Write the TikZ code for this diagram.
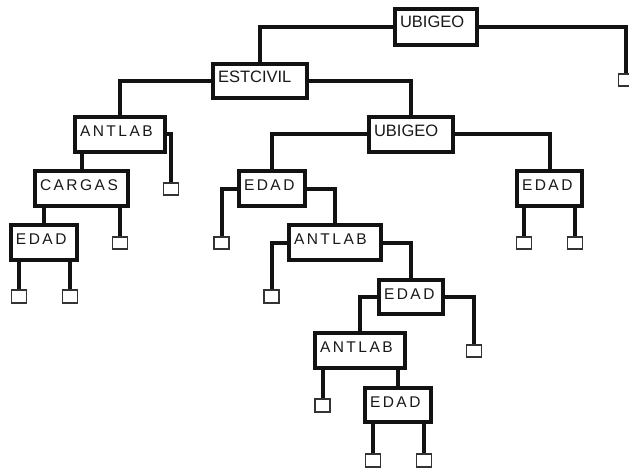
\documentclass[tikz,border=0pt]{standalone}
\usepackage{fontspec}
\setmainfont{Liberation Sans}
\newfontfamily\spacedfont[LetterSpace=16]{Liberation Sans}
\newcommand\txa[1]{\fontsize{16.5pt}{18pt}\selectfont #1}
\newcommand\txb[1]{\fontsize{15.5pt}{18pt}\spacedfont #1}
\begin{document}
\begin{tikzpicture}[x=1pt,y=-1pt,
  conn/.style={line width=4pt, draw=black!93},
  tb/.style={draw=black!93, line width=4pt, fill=white, inner sep=0pt, align=left, text height=19pt, text=black!90},
  leaf/.style={draw=black!80, line width=1.8pt, fill=white, inner sep=0pt, minimum width=15pt, minimum height=12.5pt}]
\useasboundingbox (0,0) rectangle (629,468);
\newcommand\tbox[6]{%
 \pgfmathsetmacro\bw{#4-#2-4}\pgfmathsetmacro\bh{#5-#3-4}\pgfmathsetmacro\bd{\bh-19}%
 \node[tb, text width=\bw pt, text depth=\bd pt] (#1) at ({(#2+#4)/2},{(#3+#5)/2}) {\hspace*{5pt}#6};}
\newcommand\lf[3]{\node[leaf] (#1) at (#2,#3) {};}
% boxes
\tbox{U1}{393}{7}{479}{47}{\txa{UBIGEO}}
\tbox{EC}{211}{62}{309}{100}{\txa{ESTCIVIL}}
\tbox{A1}{73}{115}{167}{154}{\txb{ANTLAB}}
\tbox{U2}{367}{115}{455}{154}{\txa{UBIGEO}}
\tbox{C}{33}{169}{130}{208}{\txb{CARGAS}}
\tbox{E1}{9}{223}{79}{262}{\txb{EDAD}}
\tbox{E2}{237}{169}{307}{208}{\txb{EDAD}}
\tbox{E3}{515}{169}{584}{208}{\txb{EDAD}}
\tbox{A2}{287}{223}{383}{262}{\txb{ANTLAB}}
\tbox{E4}{377}{278}{445}{316}{\txb{EDAD}}
\tbox{A3}{313}{331}{407}{370}{\txb{ANTLAB}}
\tbox{E5}{363}{386}{433}{424}{\txb{EDAD}}
% leaves
\lf{L0}{626}{80}
\lf{L1}{171}{189}
\lf{L2}{120}{243}
\lf{L3}{19}{296.5}
\lf{L4}{70}{296.5}
\lf{L5}{221.5}{243}
\lf{L6}{271.5}{296.5}
\lf{L7}{524}{243}
\lf{L8}{575}{243}
\lf{L9}{474}{351}
\lf{L10}{322.5}{405.5}
\lf{L11}{373}{460.5}
\lf{L12}{424}{460.5}
% connectors
\draw[conn] (U1.west) -| (EC.north);
\draw[conn] (U1.east) -| (L0.north);
\draw[conn] (EC.west) -| (A1.north);
\draw[conn] (EC.east) -| (U2.north);
\draw[conn] (A1.east) -| (L1.north);
\draw[conn] (C.north) -- (C.north |- A1.south);
\draw[conn] (E1.north) -- (E1.north |- C.south);
\draw[conn] (L2.north) -- (L2.north |- C.south);
\draw[conn] (L3.north) -- (L3.north |- E1.south);
\draw[conn] (L4.north) -- (L4.north |- E1.south);
\draw[conn] (U2.west) -| (E2.north);
\draw[conn] (U2.east) -| (E3.north);
\draw[conn] (E2.west) -| (L5.north);
\draw[conn] (E2.east) -| (A2.north);
\draw[conn] (A2.west) -| (L6.north);
\draw[conn] (A2.east) -| (E4.north);
\draw[conn] (L7.north) -- (L7.north |- E3.south);
\draw[conn] (L8.north) -- (L8.north |- E3.south);
\draw[conn] (E4.west) -| (A3.north);
\draw[conn] (E4.east) -| (L9.north);
\draw[conn] (L10.north) -- (L10.north |- A3.south);
\draw[conn] (E5.north) -- (E5.north |- A3.south);
\draw[conn] (L11.north) -- (L11.north |- E5.south);
\draw[conn] (L12.north) -- (L12.north |- E5.south);
\end{tikzpicture}
\end{document}
